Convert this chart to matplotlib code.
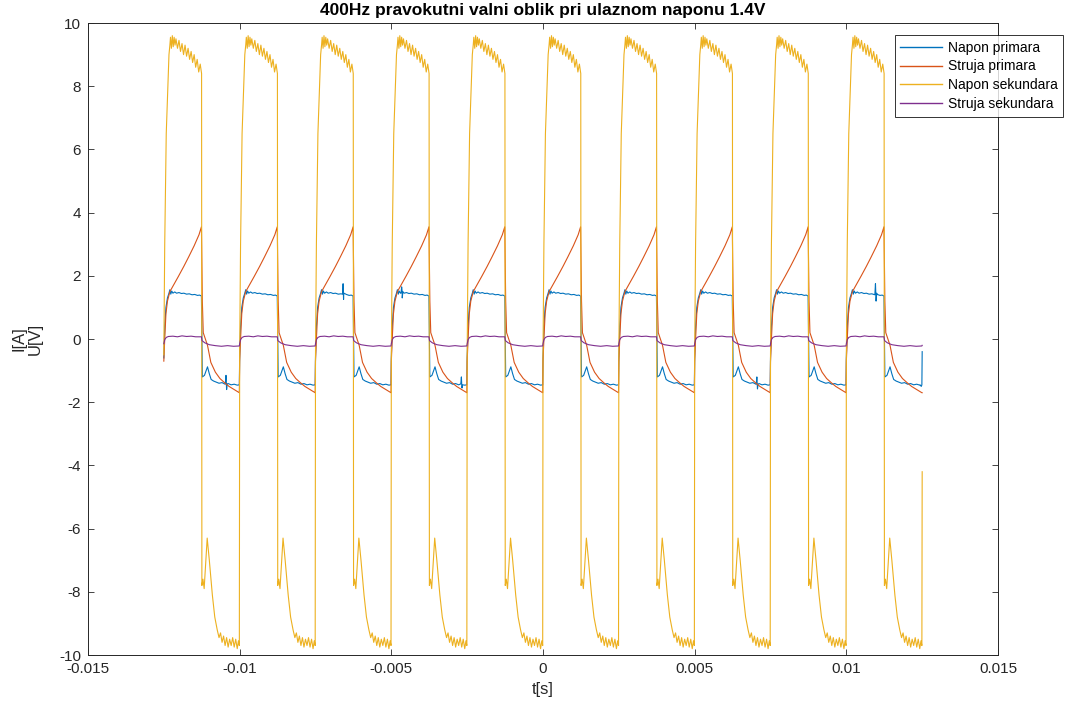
import numpy as np
import matplotlib
matplotlib.use("Agg")
import matplotlib.pyplot as plt
from matplotlib.ticker import FixedLocator, FixedFormatter

# ---------------- data ----------------
title = "400Hz pravokutni valni oblik pri ulaznom naponu 1.4V"
series_names = ["Napon primara", "Struja primara", "Napon sekundara", "Struja sekundara"]
series_colors = ["#0072BD", "#D95319", "#EDB120", "#7E2F8E"]

t_start = -0.0125          # s, first rising edge
period = 0.0025            # s (400 Hz)
n_periods = 10

# one period, offsets in ms from the rising edge
blue_tpl_t = [0.00, 0.03, 0.07, 0.12, 0.17, 0.20, 0.23, 0.26, 0.30, 0.36, 0.42, 0.50, 0.58, 0.66,
              0.75, 0.84, 0.93, 1.02, 1.11, 1.18, 1.24, 1.27, 1.34, 1.44, 1.50, 1.56, 1.64, 1.72,
              1.82, 1.92, 2.02, 2.12, 2.22, 2.32, 2.42, 2.49]
blue_tpl_v = [-0.6, 0.4, 1.0, 1.3, 1.45, 1.56, 1.42, 1.52, 1.45, 1.49, 1.45, 1.47, 1.44, 1.45,
              1.42, 1.43, 1.40, 1.41, 1.38, 1.39, 1.36, -1.2, -1.15, -0.88, -1.1, -1.28, -1.33, -1.36,
              -1.40, -1.38, -1.43, -1.41, -1.45, -1.43, -1.46, -1.45]

orange_tpl_t = [0.00, 0.03, 0.07, 0.12, 0.20, 0.33, 0.48, 0.66, 0.82, 1.00, 1.16, 1.24,
                1.27, 1.30, 1.44, 1.55, 1.70, 1.85, 2.00, 2.15, 2.32, 2.49]
orange_tpl_v = [-0.7, 0.0, 0.8, 1.2, 1.5, 1.72, 1.98, 2.3, 2.6, 2.95, 3.3, 3.55,
                1.2, 0.2, -0.2, -0.74, -1.05, -1.25, -1.38, -1.5, -1.6, -1.7]

yellow_tpl_t = [0.00, 0.03, 0.08, 0.17, 0.20, 0.22, 0.25, 0.28, 0.31, 0.34, 0.37, 0.40, 0.45,
                0.50, 0.55, 0.60, 0.65, 0.70, 0.75, 0.80, 0.85, 0.90, 0.95, 1.00, 1.05, 1.10,
                1.15, 1.20, 1.245, 1.255, 1.29, 1.33, 1.43, 1.50, 1.60, 1.68, 1.76, 1.82, 1.87,
                1.92, 1.97, 2.02, 2.07, 2.12, 2.17, 2.22, 2.27, 2.32, 2.37, 2.42, 2.46, 2.49]
yellow_tpl_v = [-0.5, 3.0, 6.5, 9.0, 9.3, 9.55, 9.2, 9.6, 9.25, 9.55, 9.3, 9.5, 9.2,
                9.45, 9.1, 9.35, 9.0, 9.3, 8.95, 9.2, 8.85, 9.1, 8.75, 9.0, 8.6, 8.85,
                8.45, 8.7, 8.4, -7.8, -7.6, -7.9, -6.3, -7.0, -8.1, -8.8, -9.2, -9.45, -9.3,
                -9.6, -9.4, -9.7, -9.45, -9.75, -9.5, -9.7, -9.45, -9.75, -9.5, -9.8, -9.55, -9.7]

purple_tpl_t = [0.00, 0.03, 0.08, 0.15, 0.30, 0.45, 0.60, 0.75, 0.90, 1.05, 1.24,
                1.26, 1.35, 1.50, 1.70, 1.90, 2.10, 2.30, 2.49]
purple_tpl_v = [-0.15, -0.02, 0.05, 0.08, 0.09, 0.07, 0.10, 0.08, 0.09, 0.07, 0.07,
                -0.05, -0.12, -0.18, -0.21, -0.23, -0.21, -0.23, -0.22]

# last sample of the record (t = 0.0125 s)
t_end = 0.0125
end_values = [-0.4, -1.7, -4.2, -0.2]

# isolated spikes seen in the primary voltage
blue_spike_t = [-0.006605, -0.00659, -0.006575, -0.00656,
                -0.00468, -0.00466, -0.00464, -0.00462,
                0.01094, 0.01096, 0.01098, 0.01100,
                -0.01047, -0.01045, -0.01043, -0.01041,
                -0.00271, -0.00269, -0.00267, -0.00265,
                0.00703, 0.00705, 0.00707, 0.00709,
                0.01243, 0.01247]
blue_spike_v = [1.42, 1.75, 1.25, 1.45,
                1.45, 1.65, 1.30, 1.50,
                1.40, 1.75, 1.20, 1.45,
                -1.40, -1.15, -1.60, -1.42,
                -1.42, -1.20, -1.55, -1.45,
                -1.42, -1.20, -1.58, -1.43,
                -1.45, -1.5]

x_ticks = [-0.015, -0.01, -0.005, 0, 0.005, 0.01, 0.015]
x_tick_labels = ["-0.015", "-0.01", "-0.005", "0", "0.005", "0.01", "0.015"]
y_ticks = [-10, -8, -6, -4, -2, 0, 2, 4, 6, 8, 10]
y_tick_labels = ["-10", "-8", "-6", "-4", "-2", "0", "2", "4", "6", "8", "10"]


def build(tpl_t, tpl_v, end_v, extra_t=(), extra_v=()):
    t, v = [], []
    for k in range(n_periods):
        base = t_start + k * period
        t.extend(base + np.asarray(tpl_t) * 1e-3)
        v.extend(tpl_v)
    t.append(t_end)
    v.append(end_v)
    t = np.concatenate([np.asarray(t), np.asarray(extra_t, dtype=float)])
    v = np.concatenate([np.asarray(v), np.asarray(extra_v, dtype=float)])
    order = np.argsort(t, kind="stable")
    return t[order], v[order]


plt.rcParams['font.family'] = ['Liberation Sans', 'DejaVu Sans']

fig = plt.figure(figsize=(10.69, 7.04), dpi=100)
ax = fig.add_axes([0.0823, 0.0696, 0.8513, 0.8977])

data = [
    build(blue_tpl_t, blue_tpl_v, end_values[0], blue_spike_t, blue_spike_v),
    build(orange_tpl_t, orange_tpl_v, end_values[1]),
    build(yellow_tpl_t, yellow_tpl_v, end_values[2]),
    build(purple_tpl_t, purple_tpl_v, end_values[3]),
]
for (t, v), name, col in zip(data, series_names, series_colors):
    ax.plot(t, v, color=col, lw=0.8, label=name)

ax.set_xlim(-0.015, 0.015)
ax.set_ylim(-10, 10)
ax.xaxis.set_major_locator(FixedLocator(x_ticks))
ax.xaxis.set_major_formatter(FixedFormatter(x_tick_labels))
ax.yaxis.set_major_locator(FixedLocator(y_ticks))
ax.yaxis.set_major_formatter(FixedFormatter(y_tick_labels))

gray = "#262626"
ax.tick_params(direction="in", top=True, right=True, length=4.5, width=0.6,
               colors=gray, labelsize=11, pad=5)
for s in ax.spines.values():
    s.set_color(gray)
    s.set_linewidth(0.7)

ax.set_title(title, fontsize=12.5, fontweight="bold", color="black", pad=6)
ax.set_xlabel("t[s]", fontsize=12, color=gray, labelpad=4)
ax.set_ylabel("I[A]\nU[V]", fontsize=12, color=gray, labelpad=12, linespacing=1.1)

leg = ax.legend(loc="upper right", bbox_to_anchor=(0.9944, 0.9503),
                bbox_transform=fig.transFigure, fontsize=10, frameon=True,
                fancybox=False, shadow=False, handlelength=3.0, handletextpad=0.4,
                borderpad=0.4, labelspacing=0.35, borderaxespad=0)
leg.get_frame().set_edgecolor("black")
leg.get_frame().set_linewidth(0.7)
for h, col in zip(leg.get_lines(), series_colors):
    h.set_color(col)
    h.set_linewidth(1.0)
for txt in leg.get_texts():
    txt.set_color("black")

fig.savefig("out.png", dpi=100)
